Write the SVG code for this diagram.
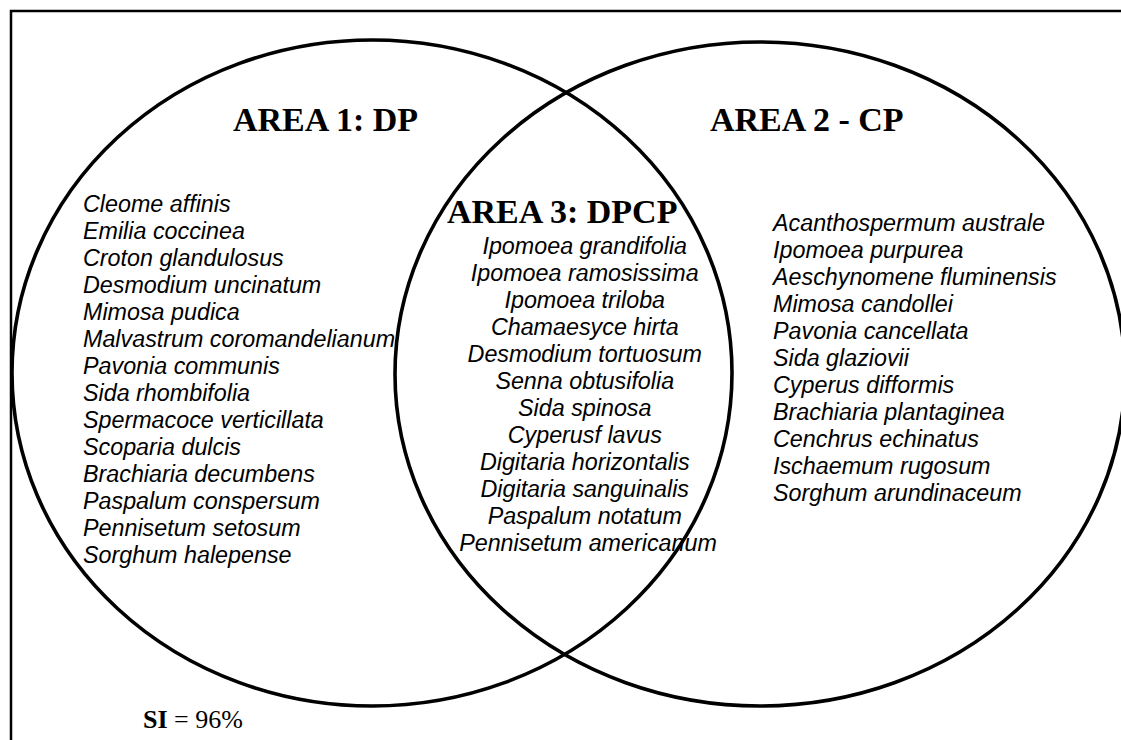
<svg xmlns="http://www.w3.org/2000/svg" width="1121" height="740" viewBox="0 0 1121 740">
<style>
.frame{fill:none;stroke:#000;stroke-width:2.5}
.ring{fill:none;stroke:#000;stroke-width:3.6}
.title{font-family:"Liberation Serif","Times New Roman",serif;font-weight:bold;font-size:34px;fill:#000}
.sp{font-family:"Liberation Sans",Arial,sans-serif;font-style:italic;font-size:23.3px;fill:#000}
.mid{text-anchor:middle}
.si{font-family:"Liberation Serif","Times New Roman",serif;font-size:26px;fill:#000}
</style>
<rect class="frame" x="11" y="11" width="1200" height="800"/>
<g id="area1">
<ellipse class="ring" cx="372" cy="373" rx="360" ry="333"/>
<text class="title" x="233" y="131">AREA 1: DP</text>
<text class="sp" x="83">
<tspan x="83" y="212">Cleome affinis</tspan>
<tspan x="83" y="239">Emilia coccinea</tspan>
<tspan x="83" y="266">Croton glandulosus</tspan>
<tspan x="83" y="293">Desmodium uncinatum</tspan>
<tspan x="83" y="320">Mimosa pudica</tspan>
<tspan x="83" y="347">Malvastrum coromandelianum</tspan>
<tspan x="83" y="374">Pavonia communis</tspan>
<tspan x="83" y="401">Sida rhombifolia</tspan>
<tspan x="83" y="428">Spermacoce verticillata</tspan>
<tspan x="83" y="455">Scoparia dulcis</tspan>
<tspan x="83" y="482">Brachiaria decumbens</tspan>
<tspan x="83" y="509">Paspalum conspersum</tspan>
<tspan x="83" y="536">Pennisetum setosum</tspan>
<tspan x="83" y="563">Sorghum halepense</tspan>
</text>
</g>
<g id="area2">
<ellipse class="ring" cx="760" cy="374" rx="365" ry="332"/>
<text class="title" x="710" y="131">AREA 2 - CP</text>
<text class="sp" x="773">
<tspan x="773" y="231">Acanthospermum australe</tspan>
<tspan x="773" y="258">Ipomoea purpurea</tspan>
<tspan x="773" y="285">Aeschynomene fluminensis</tspan>
<tspan x="773" y="312">Mimosa candollei</tspan>
<tspan x="773" y="339">Pavonia cancellata</tspan>
<tspan x="773" y="366">Sida glaziovii</tspan>
<tspan x="773" y="393">Cyperus difformis</tspan>
<tspan x="773" y="420">Brachiaria plantaginea</tspan>
<tspan x="773" y="447">Cenchrus echinatus</tspan>
<tspan x="773" y="474">Ischaemum rugosum</tspan>
<tspan x="773" y="501">Sorghum arundinaceum</tspan>
</text>
</g>
<g id="area3">
<text class="title" x="447" y="223">AREA 3: DPCP</text>
<text class="sp mid" x="588">
<tspan x="588" y="254">Ipomoea grandifolia</tspan>
<tspan x="588" y="281">Ipomoea ramosissima</tspan>
<tspan x="588" y="308">Ipomoea triloba</tspan>
<tspan x="588" y="335">Chamaesyce hirta</tspan>
<tspan x="588" y="362">Desmodium tortuosum</tspan>
<tspan x="588" y="389">Senna obtusifolia</tspan>
<tspan x="588" y="416">Sida spinosa</tspan>
<tspan x="588" y="443">Cyperusf lavus</tspan>
<tspan x="588" y="470">Digitaria horizontalis</tspan>
<tspan x="588" y="497">Digitaria sanguinalis</tspan>
<tspan x="588" y="524">Paspalum notatum</tspan>
<tspan x="588" y="551">Pennisetum americanum</tspan>
</text>
</g>
<g id="si">
<text class="si" x="143" y="728"><tspan font-weight="bold">SI</tspan> = 96%</text>
</g>
</svg>
